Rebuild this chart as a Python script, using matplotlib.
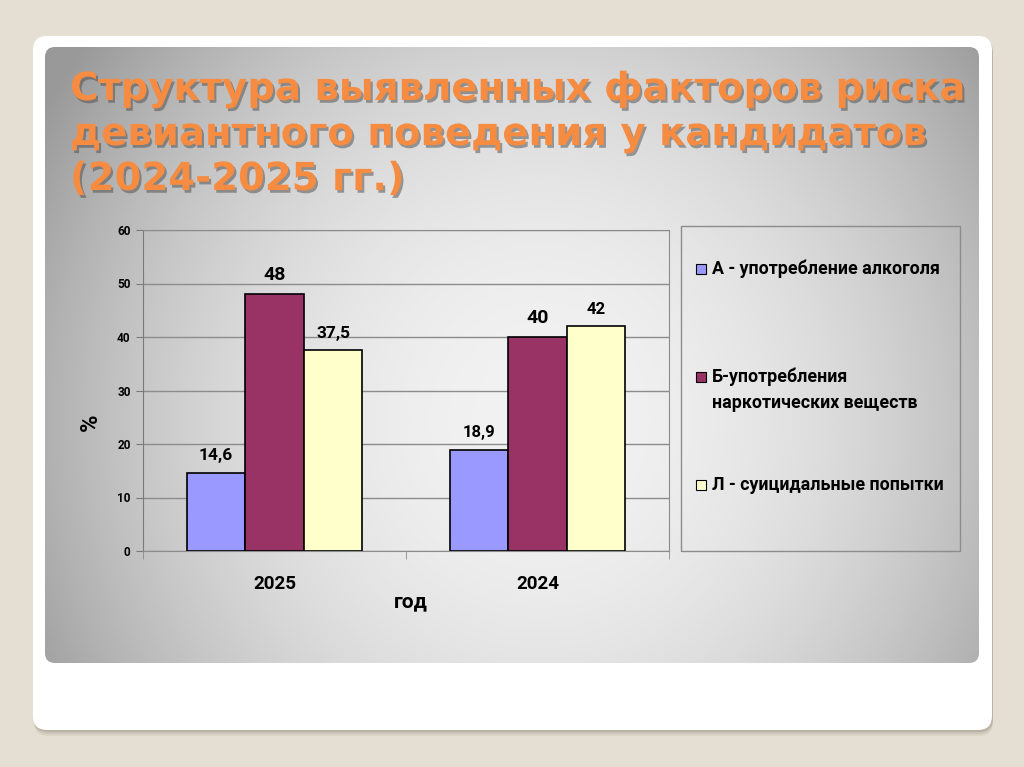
import numpy as np
import matplotlib
matplotlib.use("Agg")
import matplotlib.pyplot as plt
from matplotlib.patches import FancyBboxPatch, Rectangle
import matplotlib.patheffects as pe

# data
years = ['2025', '2024']
series_names = ['А - употребление алкоголя',
                'Б-употребления\nнаркотических веществ',
                'Л - суицидальные попытки']
alcohol = [14.6, 18.9]
drugs = [48, 40]
suicide = [37.5, 42]
title_lines = ['Структура выявленных факторов риска',
               'девиантного поведения у кандидатов',
               '(2024-2025 гг.)']

colors = ['#9999ff', '#993366', '#ffffcc']
label_sizes = [[12.5, 12], [14, 14], [12.5, 12]]   # per series, per year
W, H = 1024, 767

plt.rcParams['font.family'] = ['Roboto', 'DejaVu Sans']

fig = plt.figure(figsize=(W / 100, H / 100), dpi=100)
fig.patch.set_facecolor('#e5ded2')

# background: card, panel with radial gradient
bg = fig.add_axes([0, 0, 1, 1])
bg.set_xlim(0, W); bg.set_ylim(H, 0); bg.axis('off')

for k, a in enumerate([0.12, 0.18, 0.3]):
    bg.add_patch(FancyBboxPatch((33 + 1, 36 + 6 - 2 * k), 959, 694,
                                boxstyle="round,pad=0,rounding_size=14",
                                fc='#8f877a', ec='none', alpha=a))
bg.add_patch(FancyBboxPatch((33, 36), 959, 694, boxstyle="round,pad=0,rounding_size=14",
                            fc='white', ec='none'))

px0, py0, px1, py1 = 45, 47, 979, 663
panel = FancyBboxPatch((px0, py0), px1 - px0, py1 - py0,
                       boxstyle="round,pad=0,rounding_size=10", fc='none', ec='none')
bg.add_patch(panel)
gx, gy = np.meshgrid(np.linspace(px0, px1, 400), np.linspace(py0, py1, 300))
r2 = ((gx - 540) / 560) ** 2 + ((gy - 420) / 600) ** 2
val = np.clip(0.95 - 0.33 * r2, 0.6, 1)
img = bg.imshow(np.dstack([val, val, val]), extent=(px0, px1, py1, py0),
                origin='upper', aspect='auto', interpolation='bilinear', zorder=2)
img.set_clip_path(panel)
bg.set_xlim(0, W); bg.set_ylim(H, 0)

for i, line in enumerate(title_lines):
    bg.text(70, 100 + 45 * i, line, fontsize=27.8, fontweight='bold',
            family='DejaVu Sans', color='#f68c42', va='baseline', ha='left', zorder=3,
            path_effects=[pe.withSimplePatchShadow(offset=(1.5, -2),
                                                   shadow_rgbFace='#4a4a4a', alpha=0.5)])

# chart
ax = fig.add_axes([143 / W, 1 - 551 / H, 526 / W, 321 / H])
ax.patch.set_alpha(0)
x = np.arange(len(years))
width = 0.2225
data = [alcohol, drugs, suicide]
for j, vals in enumerate(data):
    bars = ax.bar(x + (j - 1) * width, vals, width, color=colors[j],
                  edgecolor='black', linewidth=1.2, zorder=3)
    for b, v, fs in zip(bars, vals, label_sizes[j]):
        ax.annotate(f'{v:g}'.replace('.', ','), (b.get_x() + b.get_width() / 2, v),
                    xytext=(0, 7), textcoords='offset points', ha='center',
                    va='bottom', fontsize=fs, fontweight='bold')

ax.set_ylim(0, 60)
ax.set_xlim(-0.5, len(years) - 0.5)
ax.set_yticks(range(0, 61, 10))
ax.yaxis.grid(True, color='#8c8c8c', linewidth=1, zorder=0)
ax.set_axisbelow(True)
for s in ax.spines.values():
    s.set_color('#8c8c8c')
ax.spines['left'].set_color('#7a7a7a')
ax.tick_params(axis='y', labelsize=8.5, length=5, color='#7a7a7a', pad=4)
for t in ax.get_yticklabels():
    t.set_fontweight('bold')
ax.set_xticks(x)
ax.set_xticklabels(years, fontsize=13.5, fontweight='bold')
ax.set_xticks(np.arange(-0.5, len(years)), minor=True)
ax.tick_params(axis='x', which='major', length=0, pad=17)
ax.tick_params(axis='x', which='minor', length=6, color='#8c8c8c')
ax.set_xlabel('год', fontsize=15, fontweight='bold')
ax.xaxis.set_label_coords(0.51, -0.13)
ax.set_ylabel('%', fontsize=17, fontweight='bold')
ax.yaxis.set_label_coords(-0.078, 0.4)

# legend
bg.add_patch(Rectangle((681, 226), 279, 325, fc='none', ec='#8c8c8c', lw=1, zorder=3))
for j, name in enumerate(series_names):
    yc = 269 + 108 * j
    bg.add_patch(Rectangle((696, yc - 5), 10, 10, fc=colors[j], ec='black', lw=0.8, zorder=3))
    bg.text(712, yc - 10 if '\n' in name else yc, name, fontsize=12.8, fontweight='bold',
            va='top' if '\n' in name else 'center', ha='left', linespacing=1.6, zorder=3)

fig.savefig('out.png', dpi=100, facecolor=fig.get_facecolor())
